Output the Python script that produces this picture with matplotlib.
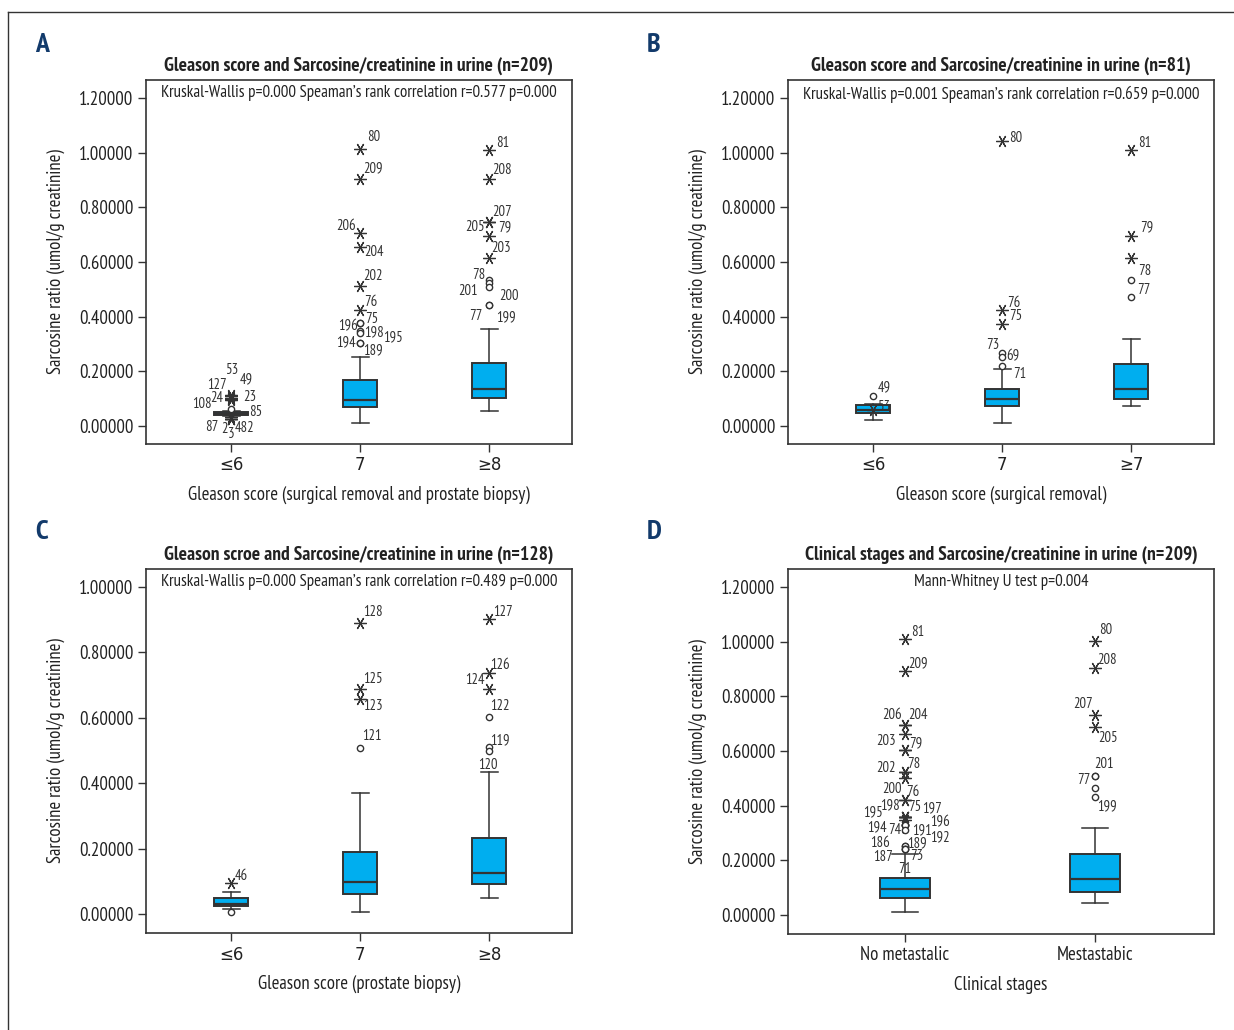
import matplotlib
matplotlib.use("Agg")
import matplotlib.pyplot as plt
from matplotlib.lines import Line2D

plt.rcParams['font.family'] = ['PT Sans Narrow', 'Archivo Narrow', 'DejaVu Sans']

# ---- data ----
titles = ["Gleason score and Sarcosine/creatinine in urine (n=209)",
          "Gleason score and Sarcosine/creatinine in urine (n=81)",
          "Gleason scroe and Sarcosine/creatinine in urine (n=128)",
          "Clinical stages and Sarcosine/creatinine in urine (n=209)"]
notes = ["Kruskal-Wallis p=0.000 Speaman\u2019s rank correlation r=0.577 p=0.000",
         "Kruskal-Wallis p=0.001 Speaman\u2019s rank correlation r=0.659 p=0.000",
         "Kruskal-Wallis p=0.000 Speaman\u2019s rank correlation r=0.489 p=0.000",
         "Mann-Whitney U test p=0.004"]
xlabels = ["Gleason score (surgical removal and prostate biopsy)",
           "Gleason score (surgical removal)",
           "Gleason score (prostate biopsy)",
           "Clinical stages"]
categories = [["\u22646", "7", "\u22658"],
              ["\u22646", "7", "\u22657"],
              ["\u22646", "7", "\u22658"],
              ["No metastalic", "Mestastabic"]]
panel_letters = ["A", "B", "C", "D"]

# box statistics per panel: whislo, q1, median, q3, whishi
whislo = [[0.036, 0.012, 0.056], [0.022, 0.012, 0.074], [0.015, 0.006, 0.049], [0.012, 0.045]]
q1 = [[0.040, 0.071, 0.101], [0.046, 0.073, 0.099], [0.026, 0.062, 0.092], [0.061, 0.083]]
med = [[0.045, 0.096, 0.134], [0.059, 0.098, 0.134], [0.032, 0.098, 0.124], [0.096, 0.130]]
q3 = [[0.050, 0.167, 0.229], [0.076, 0.137, 0.227], [0.050, 0.191, 0.234], [0.136, 0.224]]
whishi = [[0.056, 0.254, 0.356], [0.080, 0.209, 0.318], [0.068, 0.369, 0.434], [0.223, 0.317]]

# outliers: (group index, value, kind, case label); '*' extreme, 'o' outlier
outliers_a = [(0, 0.112, '*', '53'), (0, 0.108, '*', '127'), (0, 0.104, '*', '49'),
              (0, 0.100, '*', '24'), (0, 0.097, '*', '23'), (0, 0.095, '*', '108'),
              (0, 0.062, 'o', '85'), (0, 0.034, '*', '87'), (0, 0.024, '*', '2'),
              (0, 0.024, '*', '3'), (0, 0.024, '*', '482'),
              (1, 1.012, '*', '80'), (1, 0.903, '*', '209'), (1, 0.705, '*', '206'),
              (1, 0.655, '*', '204'), (1, 0.512, '*', '202'), (1, 0.423, '*', '76'),
              (1, 0.376, 'o', '75'), (1, 0.376, 'o', '196'), (1, 0.348, 'o', '198'),
              (1, 0.339, 'o', '195'), (1, 0.305, 'o', '194'), (1, 0.305, 'o', '189'),
              (2, 1.010, '*', '81'), (2, 0.904, '*', '208'), (2, 0.745, '*', '207'),
              (2, 0.745, '*', '205'), (2, 0.694, '*', '79'), (2, 0.615, '*', '203'),
              (2, 0.534, 'o', '78'), (2, 0.522, 'o', '201'), (2, 0.510, 'o', '200'),
              (2, 0.443, 'o', '77'), (2, 0.443, 'o', '199')]
outliers_b = [(0, 0.110, 'o', '49'), (0, 0.060, '*', '53'),
              (1, 1.043, '*', '80'), (1, 0.424, '*', '76'), (1, 0.373, '*', '75'),
              (1, 0.266, 'o', '73'), (1, 0.251, 'o', '69'), (1, 0.220, 'o', '71'),
              (2, 1.010, '*', '81'), (2, 0.694, '*', '79'), (2, 0.614, '*', ''),
              (2, 0.533, 'o', '78'), (2, 0.473, 'o', '77')]
outliers_c = [(0, 0.094, '*', '46'), (0, 0.007, 'o', ''),
              (1, 0.889, '*', '128'), (1, 0.688, '*', '125'), (1, 0.656, '*', '123'),
              (1, 0.507, 'o', '121'),
              (2, 0.901, '*', '127'), (2, 0.737, '*', '126'), (2, 0.687, '*', '124'),
              (2, 0.603, 'o', '122'), (2, 0.511, 'o', '119'), (2, 0.499, 'o', '120')]
outliers_d = [(0, 1.009, '*', '81'), (0, 0.893, '*', '209'), (0, 0.695, '*', '206'),
              (0, 0.695, '*', '204'), (0, 0.661, '*', ''), (0, 0.604, '*', '203'),
              (0, 0.604, '*', '79'), (0, 0.525, '*', '202'), (0, 0.525, '*', '78'),
              (0, 0.500, '*', ''), (0, 0.421, '*', '200'), (0, 0.421, '*', '76'),
              (0, 0.360, '*', '198'), (0, 0.360, '*', '75'), (0, 0.360, '*', '195'),
              (0, 0.360, '*', '197'), (0, 0.348, '*', ''), (0, 0.329, 'o', '194'),
              (0, 0.329, 'o', '748'), (0, 0.329, 'o', '191'), (0, 0.329, 'o', '196'),
              (0, 0.311, 'o', '192'), (0, 0.252, 'o', '186'), (0, 0.252, 'o', '189'),
              (0, 0.241, 'o', '187'), (0, 0.241, 'o', '73'), (0, 0.241, 'o', '71'),
              (1, 1.001, '*', '80'), (1, 0.904, '*', '208'), (1, 0.732, '*', '207'),
              (1, 0.689, '*', '205'), (1, 0.509, 'o', '201'), (1, 0.509, 'o', '77'),
              (1, 0.466, 'o', ''), (1, 0.433, 'o', '199')]
outliers = [outliers_a, outliers_b, outliers_c, outliers_d]

# ---- layout (label offsets in pixels, same order as outliers) ----
offs_a = [(0, 25), (-14, 11), (15, 18), (-14, 1), (19, 2), (-29, -4), (25, -3),
          (-19, -10), (-7, -10), (0, -15), (13, -9),
          (13, 12), (13, 11), (-14, 7), (14, -5), (13, 10), (10, 8),
          (11, 4), (-12, -3), (14, -1), (33, -4), (-14, 0), (13, -8),
          (13, 7), (13, 9), (13, 10), (-14, -5), (15, 9), (12, 10),
          (-11, 5), (-21, -8), (20, -9), (-14, -11), (17, -12)]
offs_b = [(11, 9), (10, 3), (13, 3), (11, 7), (13, 8), (-10, 8), (11, 1), (17, -8),
          (13, 7), (15, 9), (0, 0), (13, 9), (12, 7)]
offs_c = [(10, 7), (0, 0), (13, 11), (13, 10), (13, -7), (12, 12),
          (14, 7), (11, 8), (-15, 9), (10, 11), (11, 7), (-2, -14)]
offs_d = [(13, 7), (13, 8), (-13, 10), (13, 10), (0, 0), (-19, 9), (11, 7),
          (-19, 4), (9, 8), (0, 0), (-13, 11), (8, 8), (-15, 11), (10, 10),
          (-32, 4), (27, 8), (0, 0), (-28, -2), (-7, -5), (17, -5), (35, 3),
          (35, -7), (-25, 3), (12, 3), (-22, -8), (12, -7), (0, -20),
          (11, 11), (12, 8), (-12, 11), (13, -11), (9, 12), (-11, -4), (0, 0), (12, -10)]
offsets = [offs_a, offs_b, offs_c, offs_d]

W, H = 1234, 1030
ax_px = [(146, 80, 572, 444), (788, 80, 1214, 444), (146, 569, 572, 933), (788, 569, 1214, 934)]
ylims = [(-0.066, 1.266), (-0.066, 1.266), (-0.058, 1.055), (-0.0695, 1.266)]
yticks = [[0, .2, .4, .6, .8, 1.0, 1.2], [0, .2, .4, .6, .8, 1.0, 1.2],
          [0, .2, .4, .6, .8, 1.0], [0, .2, .4, .6, .8, 1.0, 1.2]]
xlims = [(0.34, 3.64), (0.34, 3.64), (0.34, 3.64), (0.384, 2.626)]
letter_pos = [(42, 45), (654, 45), (42, 532), (654, 532)]

box_color = '#00AEEF'
ink = '#333333'
txt = '#222222'

fig = plt.figure(figsize=(W / 100, H / 100), dpi=100)

for i in range(4):
    l, t, r, b = ax_px[i]
    ax = fig.add_axes([l / W, 1 - b / H, (r - l) / W, (b - t) / H])
    n = len(categories[i])
    stats = []
    for g in range(n):
        stats.append(dict(med=med[i][g], q1=q1[i][g], q3=q3[i][g],
                          whislo=whislo[i][g], whishi=whishi[i][g], fliers=[]))
    pos = list(range(1, n + 1))
    ax.bxp(stats, positions=pos, widths=0.265, patch_artist=True, showfliers=False,
           boxprops=dict(facecolor=box_color, edgecolor=ink, linewidth=1.4),
           medianprops=dict(color=ink, linewidth=1.6),
           whiskerprops=dict(color=ink, linewidth=1.1),
           capprops=dict(color=ink, linewidth=1.1))
    for (g, v, kind, lab), (dx, dy) in zip(outliers[i], offsets[i]):
        xg = pos[g]
        if kind == '*':
            ax.plot(xg, v, marker=(6, 2, 90), ms=9, mew=0.9, color=ink, ls='none', zorder=4)
        else:
            ax.plot(xg, v, marker='o', ms=4.5, mew=1.0, mfc='white', mec=ink, ls='none', zorder=4)
        if lab:
            ax.annotate(lab, (xg, v), xytext=(dx, dy), textcoords='offset pixels',
                        ha='center', va='center', fontsize=10.5, color=ink)
    ax.set_xlim(*xlims[i])
    ax.set_ylim(*ylims[i])
    ax.set_yticks(yticks[i])
    ax.set_yticklabels(['%.5f' % v for v in yticks[i]])
    ax.set_xticks(pos)
    if i < 3:
        ax.set_xticklabels(categories[i], family=['DejaVu Sans'], fontsize=12)
    else:
        ax.set_xticklabels(categories[i], fontsize=13.5)
    ax.tick_params(axis='both', direction='out', length=6, width=1, color=ink,
                   labelcolor=txt, pad=3)
    ax.tick_params(axis='y', labelsize=13.5)
    for s in ax.spines.values():
        s.set_color(ink)
        s.set_linewidth(1.2)
    ax.set_title(titles[i], fontsize=14, fontweight='bold', color=txt, pad=7)
    ax.text(0.5, 0.985, notes[i], transform=ax.transAxes, ha='center', va='top',
            fontsize=12.2, color=txt)
    ax.set_xlabel(xlabels[i], fontsize=13.5, color=txt, labelpad=8)
    ax.set_ylabel("Sarcosine ratio (umol/g creatinine)", fontsize=13.5, color=txt, labelpad=10)
    lx, ly = letter_pos[i]
    fig.text(lx / W, 1 - ly / H, panel_letters[i], ha='center', va='center',
             fontsize=20, fontweight='bold', color='#123a6b')

# outer frame (top and left edges)
fig.add_artist(Line2D([8 / W, 1], [1 - 12 / H, 1 - 12 / H], color=ink, lw=1))
fig.add_artist(Line2D([8 / W, 8 / W], [0, 1 - 12 / H], color=ink, lw=1))

fig.savefig('out.png', dpi=100)
